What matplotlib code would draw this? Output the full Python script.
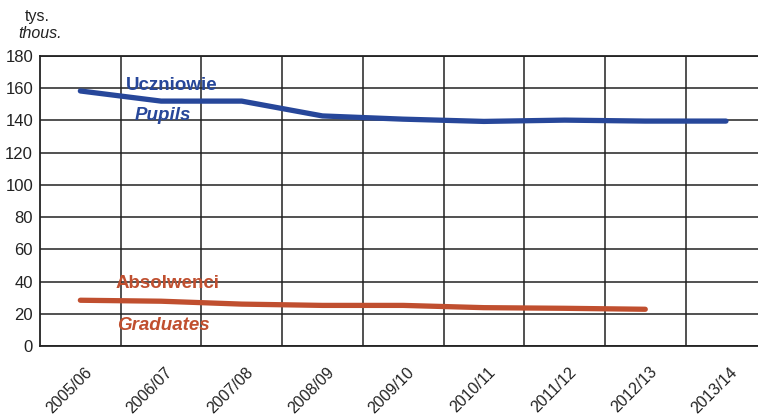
import matplotlib.pyplot as plt
from matplotlib.transforms import ScaledTranslation

plt.rcParams['font.family'] = ['Liberation Sans', 'DejaVu Sans']

# lata szkolne
lata = ['2005/06', '2006/07', '2007/08', '2008/09', '2009/10',
        '2010/11', '2011/12', '2012/13', '2013/14']

# tys.
uczniowie = [158.3, 152.0, 152.0, 142.8, 140.8, 139.4, 140.2, 139.6, 139.6]
absolwenci = [28.4, 27.8, 26.0, 25.2, 25.2, 23.8, 23.4, 22.8]

niebieski = '#27479a'
ceglasty = '#c04f2f'

fig = plt.figure(figsize=(7.58, 4.18), dpi=100)
ax = fig.add_axes([40 / 758, 72 / 418, 718 / 758, 290 / 418])

x = list(range(len(lata)))
ax.plot(x, uczniowie, color=niebieski, lw=3.8, solid_capstyle='round',
        solid_joinstyle='round', zorder=3)
ax.plot(x[:len(absolwenci)], absolwenci, color=ceglasty, lw=3.8,
        solid_capstyle='round', solid_joinstyle='round', zorder=3)

ax.set_xlim(-0.5, 8.397)
ax.set_ylim(0, 180)
ax.set_yticks(range(0, 181, 20))
ax.set_xticks(x)
ax.set_xticklabels(lata, rotation=45, ha='right', va='center',
                   rotation_mode='anchor')
ax.set_xticks([k + 0.5 for k in range(8)], minor=True)

ax.grid(True, which='minor', axis='x', color='#222222', lw=1.1)
ax.grid(True, which='major', axis='y', color='#222222', lw=1.1)
ax.set_axisbelow(True)

ax.tick_params(axis='both', which='both', length=0, colors='#222222')
ax.tick_params(axis='x', pad=17, labelsize=11.5)
ax.tick_params(axis='y', pad=5, labelsize=12)
for lab in ax.get_xticklabels():
    lab.set_transform(lab.get_transform() +
                      ScaledTranslation(0.09, 0, fig.dpi_scale_trans))

for s in ['left', 'top', 'bottom']:
    ax.spines[s].set_color('#222222')
    ax.spines[s].set_linewidth(1.3)
ax.spines['right'].set_visible(False)

# podpisy serii
ax.text(1.136, 162, 'Uczniowie', color=niebieski, fontsize=13.5,
        fontweight='bold', ha='center', va='center')
ax.text(1.024, 142.8, 'Pupils', color=niebieski, fontsize=13.5,
        fontweight='bold', style='italic', ha='center', va='center')
ax.text(1.086, 38.5, 'Absolwenci', color=ceglasty, fontsize=13.5,
        fontweight='bold', ha='center', va='center')
ax.text(1.024, 13, 'Graduates', color=ceglasty, fontsize=13.5,
        fontweight='bold', style='italic', ha='center', va='center')

# jednostka
fig.text(37 / 758, 1 - 17 / 418, 'tys.', fontsize=11.5, color='#222222',
         ha='center', va='center')
fig.text(40 / 758, 1 - 33 / 418, 'thous.', fontsize=11.5, color='#222222',
         style='italic', ha='center', va='center')

fig.savefig('out.png', dpi=100)
